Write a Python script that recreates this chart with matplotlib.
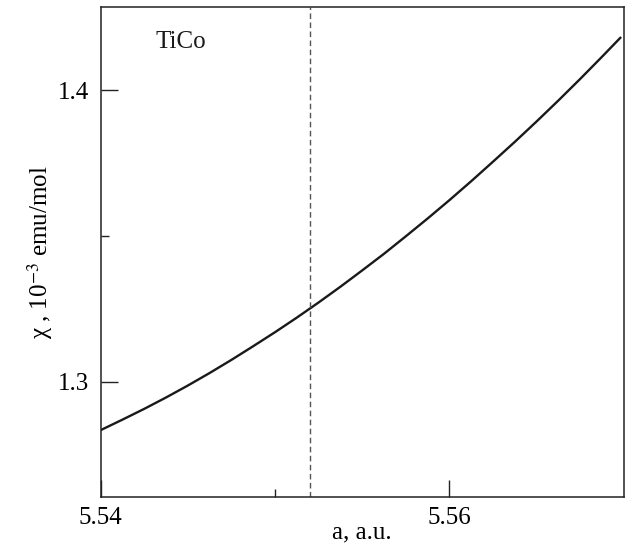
import matplotlib
matplotlib.use("Agg")
import matplotlib.pyplot as plt
from matplotlib.ticker import FixedLocator

# Data
a_values = [5.54000, 5.54125, 5.54250, 5.54375, 5.54500, 5.54625, 5.54750,
            5.54875, 5.55000, 5.55125, 5.55250, 5.55375, 5.55500, 5.55625,
            5.55750, 5.55875, 5.56000, 5.56125, 5.56250, 5.56375, 5.56500,
            5.56625, 5.56750, 5.56875, 5.56980]
chi_values = [1.2834, 1.2870, 1.2907, 1.2946, 1.2987, 1.3030, 1.3075,
              1.3122, 1.3170, 1.3220, 1.3272, 1.3326, 1.3382, 1.3439,
              1.3499, 1.3560, 1.3623, 1.3688, 1.3755, 1.3823, 1.3893,
              1.3965, 1.4039, 1.4115, 1.4180]
a_marker = 5.552
x_major = [5.54, 5.56]
x_minor = [5.55]
x_labels = ["5.54", "5.56"]
y_major = [1.3, 1.4]
y_minor = [1.35]
y_labels = ["1.3", "1.4"]
label_text = "TiCo"

plt.rcParams['font.family'] = ['Liberation Serif', 'DejaVu Serif']
plt.rcParams['mathtext.fontset'] = 'stix'

fig = plt.figure(figsize=(6.27, 5.51), dpi=100)
ax = fig.add_axes([0.1603, 0.098, 0.8349, 0.8893])

ax.plot(a_values, chi_values, color='#1a1a1a', lw=1.7,
        solid_joinstyle='round', solid_capstyle='round')
ax.axvline(a_marker, color='#555555', lw=1.0, linestyle=(0, (4, 2.5)))

ax.set_xlim(5.54, 5.57)
ax.set_ylim(1.2605, 1.4285)

ax.xaxis.set_major_locator(FixedLocator(x_major))
ax.xaxis.set_minor_locator(FixedLocator(x_minor))
ax.set_xticklabels(x_labels)
ax.yaxis.set_major_locator(FixedLocator(y_major))
ax.yaxis.set_minor_locator(FixedLocator(y_minor))
ax.set_yticklabels(y_labels)

ax.tick_params(which='major', direction='in', length=12, width=1.0,
               labelsize=18, pad=8, color='#222222')
ax.tick_params(which='minor', direction='in', length=6, width=1.0,
               color='#222222')
ax.tick_params(axis='x', which='major', pad=7)

for s in ax.spines.values():
    s.set_linewidth(1.1)
    s.set_color('#222222')

ax.text(0.105, 0.928, label_text, transform=ax.transAxes, fontsize=18,
        ha='left', va='center', color='#1a1a1a')

ax.set_xlabel("a, a.u.", fontsize=18, labelpad=-5)
ax.set_ylabel("\u03c7 , 10$^{-3}$ emu/mol", fontsize=18, labelpad=2)

fig.savefig("out.png", dpi=100)
